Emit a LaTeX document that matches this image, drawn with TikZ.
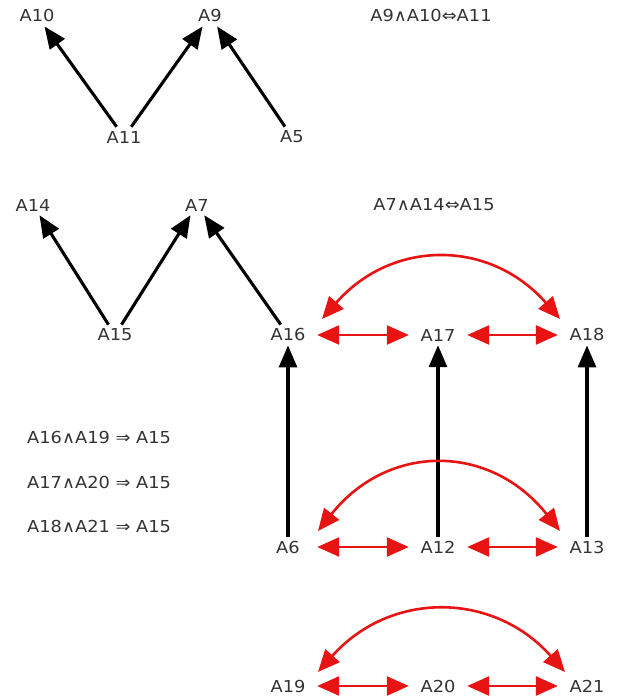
\documentclass[tikz,border=0pt]{standalone}
\usepackage{fontspec}
\setmainfont{DejaVu Sans}[FakeStretch=1.08]
\usetikzlibrary{arrows.meta, positioning, calc}
\definecolor{txtgray}{HTML}{333333}
\definecolor{relred}{HTML}{E81414}
\tikzset{
  atom/.style={
    inner sep=4pt, minimum width=58pt,
    font=\fontsize{16.5}{18}\selectfont, text=txtgray,
  },
  rulelbl/.style={font=\fontsize{16.5}{18}\selectfont, text=txtgray, inner sep=0pt},
  arr/.style={-{Triangle[length=22pt, width=18pt]}, line width=3.1pt, black},
  rarr/.style={{Triangle[length=22pt, width=19pt]}-{Triangle[length=22pt, width=19pt]},
    line width=2.6pt, relred},
}

\begin{document}
\begin{tikzpicture}[x=1pt, y=1pt]
\useasboundingbox (0,0) rectangle (616,700);

% ── first rule: A9, A10, A11 ──────────────────────────────────────────
\node[atom] (A10) at (37,684)  {A10};
\node[atom] (A9)  at (210,684) {A9};
\node[atom] (A11) at (124,563) {A11};
\node[atom] (A5)  at (292,563) {A5};
\node[rulelbl] (rule1) at (431,684) {A9∧A10⇔A11};

\draw[arr] (A11) -- (A10);
\draw[arr] (A11) -- (A9);
\draw[arr] (A5)  -- (A9);

% ── second rule: A7, A14, A15 ─────────────────────────────────────────
\node[atom] (A14) at (33,495)  {A14};
\node[atom] (A7)  at (197,495) {A7};
\node[atom] (A15) at (115,365) {A15};
\node[rulelbl] (rule2) at (434,495) {A7∧A14⇔A15};

\draw[arr] (A15) -- (A14);
\draw[arr] (A15) -- (A7);

% ── upper row of the grid ─────────────────────────────────────────────
\node[atom] (A16) at (288,365) {A16};
\node[atom] (A17) at (438,365) {A17};
\node[atom] (A18) at (587,365) {A18};

\draw[arr] (A16) -- (A7);

% ── middle row of the grid ────────────────────────────────────────────
\node[atom] (A6)  at (288,153) {A6};
\node[atom] (A12) at (438,153) {A12};
\node[atom] (A13) at (587,153) {A13};

\draw[arr] (A6)  -- (A16);
\draw[arr] (A12) -- (A17);
\draw[arr] (A13) -- (A18);

% ── bottom row ────────────────────────────────────────────────────────
\node[atom] (A19) at (288,14) {A19};
\node[atom] (A20) at (438,14) {A20};
\node[atom] (A21) at (587,14) {A21};

% ── red links: neighbours and the long arc over each row ──────────────
\draw[rarr] (A16) -- (A17);
\draw[rarr] (A17) -- (A18);
\draw[rarr] ($(A16)+(34,16)$) .. controls +(70,80) and +(-70,80) .. ($(A18)+(-27,16)$);

\draw[rarr] (A6)  -- (A12);
\draw[rarr] (A12) -- (A13);
\draw[rarr] ($(A6)+(30,16)$) .. controls +(70,88) and +(-70,88) .. ($(A13)+(-27,16)$);

\draw[rarr] (A19) -- (A20);
\draw[rarr] (A20) -- (A21);
\draw[rarr] ($(A19)+(30,14)$) .. controls +(72,81) and +(-72,81) .. ($(A21)+(-22,14)$);

% ── implications at the left ──────────────────────────────────────────
\node[rulelbl, anchor=west] (imp1) at (27,263) {A16∧A19 ⇒ A15};
\node[rulelbl, anchor=west] (imp2) at (27,218) {A17∧A20 ⇒ A15};
\node[rulelbl, anchor=west] (imp3) at (27,174) {A18∧A21 ⇒ A15};

\end{tikzpicture}
\end{document}
